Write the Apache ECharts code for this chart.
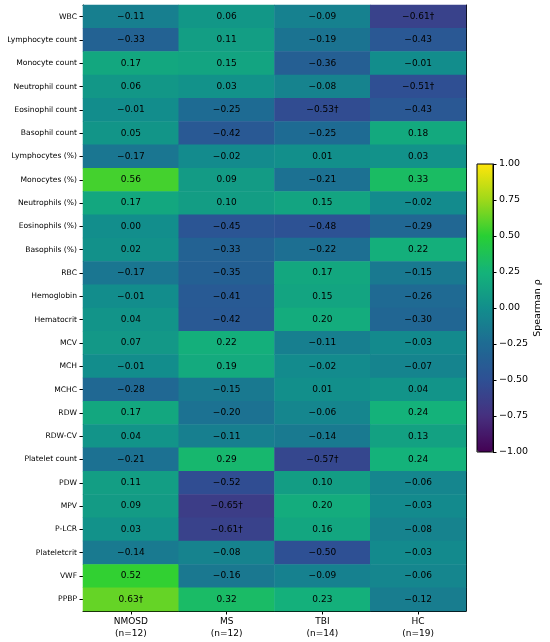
<!DOCTYPE html>
<html>
<head>
<meta charset="utf-8">
<script src="https://cdn.jsdelivr.net/npm/echarts@6/dist/echarts.min.js"></script>
<style>
  html, body { margin: 0; padding: 0; background: #fff; }
  #main { width: 550px; height: 642px; }
</style>
</head>
<body>
<div id="main"></div>
<script>
// rows of the heatmap, top to bottom
var markers = ['WBC', 'Lymphocyte count', 'Monocyte count', 'Neutrophil count', 'Eosinophil count',
  'Basophil count', 'Lymphocytes (%)', 'Monocytes (%)', 'Neutrophils (%)', 'Eosinophils (%)',
  'Basophils (%)', 'RBC', 'Hemoglobin', 'Hematocrit', 'MCV', 'MCH', 'MCHC', 'RDW', 'RDW-CV',
  'Platelet count', 'PDW', 'MPV', 'P-LCR', 'Plateletcrit', 'VWF', 'PPBP'];
var groups = ['NMOSD\n(n=12)', 'MS\n(n=12)', 'TBI\n(n=14)', 'HC\n(n=19)'];

// spearman rho per group, same order as markers
var nmosd = [-0.11, -0.33, 0.17, 0.06, -0.01, 0.05, -0.17, 0.56, 0.17, 0.00, 0.02, -0.17, -0.01,
  0.04, 0.07, -0.01, -0.28, 0.17, 0.04, -0.21, 0.11, 0.09, 0.03, -0.14, 0.52, 0.63];
var ms = [0.06, 0.11, 0.15, 0.03, -0.25, -0.42, -0.02, 0.09, 0.10, -0.45, -0.33, -0.35, -0.41,
  -0.42, 0.22, 0.19, -0.15, -0.20, -0.11, 0.29, -0.52, -0.65, -0.61, -0.08, -0.16, 0.32];
var tbi = [-0.09, -0.19, -0.36, -0.08, -0.53, -0.25, 0.01, -0.21, 0.15, -0.48, -0.22, 0.17, 0.15,
  0.20, -0.11, -0.02, 0.01, -0.06, -0.14, -0.57, 0.10, 0.20, 0.16, -0.50, -0.09, 0.23];
var hc = [-0.61, -0.43, -0.01, -0.51, -0.43, 0.18, 0.03, 0.33, -0.02, -0.29, 0.22, -0.15, -0.26,
  -0.30, -0.03, -0.07, 0.04, 0.24, 0.13, 0.24, -0.06, -0.03, -0.08, -0.03, -0.06, -0.12];

// cells marked with a dagger: [group index, marker index]
var daggers = [[3, 0], [3, 3], [2, 4], [2, 19], [1, 21], [1, 22], [0, 25]];

var cbTicks = [-1, -0.75, -0.5, -0.25, 0, 0.25, 0.5, 0.75, 1];

var palette = ['#440154', '#46307f', '#2e5094', '#1e6b93', '#128e8c', '#14b379', '#28cf34', '#9ed81a', '#ffe50a'];

function fmt(v) {
  return (v < 0 ? '\u2212' : '') + Math.abs(v).toFixed(2);
}

var cols = [nmosd, ms, tbi, hc];
var cells = [];
cols.forEach(function (vals, gi) {
  vals.forEach(function (v, ri) {
    cells.push([gi, ri, v]);
  });
});
function hasDagger(g, r) {
  return daggers.some(function (d) { return d[0] === g && d[1] === r; });
}

var font = 'DejaVu Sans';
var myChart = echarts.init(document.getElementById('main'));
myChart.setOption({
  animation: false,
  textStyle: { fontFamily: font },
  grid: [
    { left: 83, top: 5, width: 383, height: 606 },
    { left: 477, top: 164, width: 16, height: 288, show: true, borderColor: '#000', borderWidth: 1,
      backgroundColor: 'transparent', z: 10 }
  ],
  xAxis: [
    {
      type: 'category', data: groups, gridIndex: 0,
      axisLine: { show: true, lineStyle: { color: '#000', width: 1 } },
      axisTick: { show: true, alignWithLabel: true, length: 3.5, lineStyle: { color: '#000' } },
      axisLabel: { color: '#000', fontSize: 9, lineHeight: 12.5, margin: 4 },
      splitLine: { show: false }
    },
    {
      type: 'category', data: groups, gridIndex: 0, position: 'top',
      axisLine: { show: true, lineStyle: { color: '#000', width: 1 } },
      axisTick: { show: false }, axisLabel: { show: false }
    },
    {
      type: 'value', gridIndex: 1, min: 0, max: 1, show: false
    }
  ],
  yAxis: [
    {
      type: 'category', data: markers, gridIndex: 0, inverse: true,
      axisLine: { show: true, lineStyle: { color: '#000', width: 1 } },
      axisTick: { show: true, alignWithLabel: true, length: 3.5, lineStyle: { color: '#000' } },
      axisLabel: { color: '#000', fontSize: 7.6, margin: 6 },
      splitLine: { show: false }
    },
    {
      type: 'category', data: markers, gridIndex: 0, inverse: true, position: 'right',
      axisLine: { show: true, lineStyle: { color: '#000', width: 1 } },
      axisTick: { show: false }, axisLabel: { show: false }
    },
    {
      type: 'value', gridIndex: 1, min: -1, max: 1, interval: 0.25, position: 'right', z: 10,
      axisLine: { show: true, onZero: false, lineStyle: { color: '#000', width: 1 } },
      axisTick: { show: true, length: 3.5, lineStyle: { color: '#000' } },
      axisLabel: {
        color: '#000', fontSize: 9.5, margin: 6,
        formatter: function (v) { return cbTicks.indexOf(v) >= 0 ? fmt(v) : ''; }
      },
      splitLine: { show: false },
      name: 'Spearman \u03c1', nameLocation: 'middle', nameRotate: 90, nameGap: 40,
      nameTextStyle: { color: '#000', fontSize: 9.5 }
    }
  ],
  visualMap: {
    type: 'continuous', min: -1, max: 1, seriesIndex: 0, z: 1,
    left: 477, top: 164, itemWidth: 16, itemHeight: 288, padding: 0,
    calculable: false, hoverLink: false, text: null, showLabel: false,
    inRange: { color: palette }
  },
  series: [
    {
      type: 'heatmap', xAxisIndex: 0, yAxisIndex: 0, data: cells,
      label: {
        show: true, color: '#000', fontSize: 9, fontFamily: font,
        formatter: function (p) {
          return fmt(p.value[2]) + (hasDagger(p.value[0], p.value[1]) ? '\u2020' : '');
        }
      },
      itemStyle: { borderWidth: 0 }
    },
    {
      type: 'scatter', xAxisIndex: 2, yAxisIndex: 2, data: [], silent: true
    }
  ]
});
</script>
</body>
</html>
